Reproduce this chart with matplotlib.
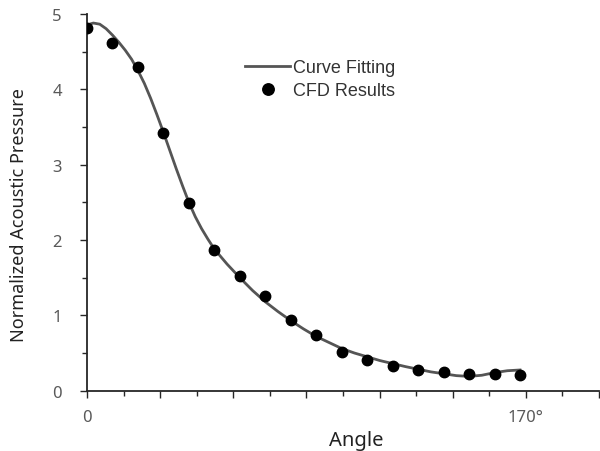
import matplotlib.pyplot as plt

# CFD sample points (angle in degrees)
angle = [0, 10, 20, 30, 40, 50, 60, 70, 80, 90, 100, 110, 120, 130, 140, 150, 160, 170]
cfd = [4.82, 4.615, 4.29, 3.42, 2.49, 1.87, 1.52, 1.26, 0.94, 0.74, 0.51, 0.41,
       0.33, 0.28, 0.245, 0.225, 0.225, 0.205]

# fitted curve
fit_angle = [0, 2.5, 5, 7.5, 10, 12.5, 15, 17.5, 20, 22.5, 25, 27.5, 30, 32.5, 35,
             37.5, 40, 42.5, 45, 47.5, 50, 55, 60, 65, 70, 75, 80, 85, 90, 95, 100,
             105, 110, 115, 120, 125, 130, 135, 140, 145, 150, 155, 160, 165, 170]
fit_value = [4.855, 4.88, 4.865, 4.805, 4.72, 4.625, 4.52, 4.40, 4.25, 4.08, 3.88,
             3.66, 3.43, 3.19, 2.95, 2.72, 2.50, 2.31, 2.15, 2.01, 1.88, 1.68, 1.50,
             1.33, 1.18, 1.05, 0.93, 0.82, 0.72, 0.64, 0.56, 0.50, 0.45, 0.40, 0.36,
             0.32, 0.285, 0.25, 0.225, 0.20, 0.19, 0.205, 0.24, 0.265, 0.275]

x_max = 201
tick_step = x_max / 14

fig = plt.figure(figsize=(6, 4.52), dpi=100)
ax = fig.add_axes([0.145, 0.1334, 0.8533, 0.8334])

ax.plot(fit_angle, fit_value, color='#555555', lw=2.0, label='Curve Fitting',
        solid_joinstyle='round', zorder=2)
ax.plot(angle, cfd, 'o', color='black', ms=7.5, label='CFD Results', zorder=3)

ax.set_xlim(0, x_max)
ax.set_ylim(0, 5)

for s in ['top', 'right']:
    ax.spines[s].set_visible(False)
for s in ['left', 'bottom']:
    ax.spines[s].set_linewidth(1.3)
    ax.spines[s].set_color('#262626')

major_x = [i * tick_step for i in range(0, 15, 2)]
minor_x = [i * tick_step for i in range(1, 15, 2)]
xlabels = [''] * len(major_x)
xlabels[0] = '0'
xlabels[6] = '170°'
ax.set_xticks(major_x, xlabels)
ax.set_xticks(minor_x, minor=True)
ax.set_yticks([0, 1, 2, 3, 4, 5])
ax.set_yticks([0.5, 1.5, 2.5, 3.5, 4.5], minor=True)

ax.tick_params(which='major', direction='out', length=5, width=1.0, color='#262626',
               labelcolor='#595959', labelsize=12)
ax.tick_params(which='minor', direction='out', length=3.5, width=1.0, color='#262626')
ax.tick_params(axis='y', which='major', pad=13)
ax.tick_params(axis='x', which='major', pad=8)
for lab in ax.get_xticklabels() + ax.get_yticklabels():
    lab.set_family('Noto Sans')

ax.set_xlabel('Angle', family='Noto Sans', fontsize=14.5, color='#222222')
ax.set_ylabel('Normalized Acoustic Pressure', family='Noto Sans', fontsize=13, color='#222222')
ax.xaxis.set_label_coords(0.525, -0.105)
ax.yaxis.set_label_coords(-0.116, 0.469)

ax.legend(loc='upper left', bbox_to_anchor=(0.309, 0.88), frameon=False,
          borderpad=0, borderaxespad=0, handlelength=2.5, handletextpad=0.17,
          labelspacing=0.33, markerscale=1.1,
          prop={'family': 'Liberation Sans', 'size': 13}, labelcolor='#333333')

fig.savefig('out.png', dpi=100)
